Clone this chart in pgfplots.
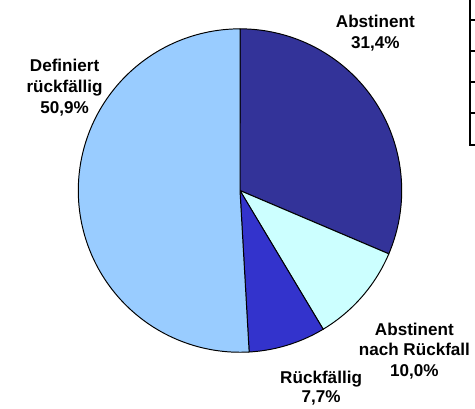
\documentclass[border=0pt]{standalone}
\usepackage{pgfplots}
\usepackage{pgfplotstable}
\pgfplotsset{compat=1.18}
\usepackage{fontspec}
\setmainfont{Liberation Sans}
\definecolor{cA}{HTML}{333399}
\definecolor{cB}{HTML}{CCFFFF}
\definecolor{cC}{HTML}{3333CC}
\definecolor{cD}{HTML}{99CCFF}
\pgfplotstableread{
value
31.4
10.0
7.7
50.9
}\piedata
\newcommand{\lbl}[3]{\node[anchor=base,inner sep=0pt,font=\fontsize{17.5}{21.5}\selectfont\bfseries] at (axis cs:#1,#2) {#3};}
\begin{document}
\pgfplotstablegetelem{0}{value}\of\piedata\let\vA\pgfplotsretval
\pgfplotstablegetelem{1}{value}\of\piedata\let\vB\pgfplotsretval
\pgfplotstablegetelem{2}{value}\of\piedata\let\vC\pgfplotsretval
\pgfplotstablegetelem{3}{value}\of\piedata\let\vD\pgfplotsretval
\pgfmathsetmacro\aA{90-3.6*\vA}
\pgfmathsetmacro\aB{\aA-3.6*\vB}
\pgfmathsetmacro\aC{\aB-3.6*\vC}
\pgfmathsetmacro\aD{\aC-3.6*\vD}
\begin{tikzpicture}
\begin{axis}[
  width=475pt, height=418pt, scale only axis,
  hide axis, xmin=0, xmax=475, ymin=0, ymax=418, y dir=reverse,
  clip=false,
]
\addplot[fill=cA, draw=black, line width=1pt, domain=\aA:90, samples=90, variable=\t]
  ({234.5+165.5*cos(\t)},{195-165.5*sin(\t)}) -- (axis cs:234.5,195) -- cycle;
\addplot[fill=cB, draw=black, line width=1pt, domain=\aB:\aA, samples=40, variable=\t]
  ({234.5+165.5*cos(\t)},{195-165.5*sin(\t)}) -- (axis cs:234.5,195) -- cycle;
\addplot[fill=cC, draw=black, line width=1pt, domain=\aC:\aB, samples=30, variable=\t]
  ({234.5+165.5*cos(\t)},{195-165.5*sin(\t)}) -- (axis cs:234.5,195) -- cycle;
\addplot[fill=cD, draw=black, line width=1pt, domain=\aD:\aC, samples=120, variable=\t]
  ({234.5+165.5*cos(\t)},{195-165.5*sin(\t)}) -- (axis cs:234.5,195) -- cycle;
\lbl{373}{28}{Abstinent}
\lbl{373}{50}{31,4\%}
\lbl{55}{73}{Definiert}
\lbl{55}{95}{rückfällig}
\lbl{55}{116.5}{50,9\%}
\lbl{413}{343}{Abstinent}
\lbl{413}{364}{nach Rückfall}
\lbl{413}{385}{10,0\%}
\lbl{317.5}{392}{Rückfällig}
\lbl{317.5}{412}{7,7\%}
\draw[line width=2pt] (axis cs:470,0) -- (axis cs:470,148) -- (axis cs:475,148);
\draw[line width=2pt] (axis cs:470,20) -- (axis cs:475,20);
\draw[line width=2pt] (axis cs:470,52) -- (axis cs:475,52);
\draw[line width=2pt] (axis cs:470,84) -- (axis cs:475,84);
\draw[line width=2pt] (axis cs:470,116) -- (axis cs:475,116);
\end{axis}
\pgfresetboundingbox
\useasboundingbox (current axis.south west) rectangle (current axis.north east);
\end{tikzpicture}
\end{document}
